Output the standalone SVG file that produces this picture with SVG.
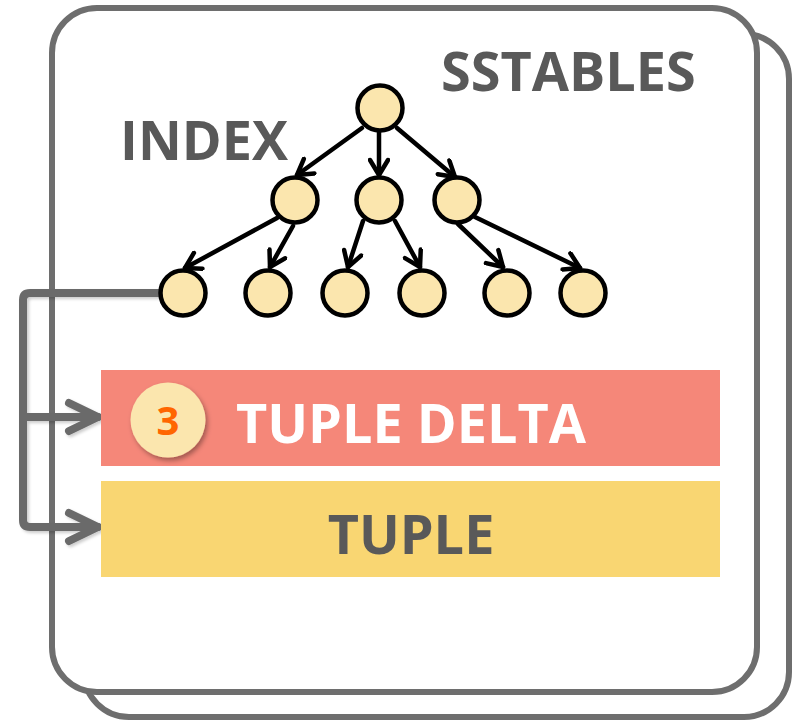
<svg xmlns="http://www.w3.org/2000/svg" width="796" height="724" viewBox="0 0 796 724">
  <defs>
    <style>
      .card { fill: #ffffff; stroke: #6e6e6e; stroke-width: 6; }
      .node { fill: #fbe6ae; stroke: #000000; stroke-width: 4.5; }
      .edge { fill: none; stroke: #000000; stroke-width: 4.5; stroke-linecap: round; }
      .link { fill: none; stroke: #6b6b6b; stroke-width: 8; stroke-linecap: round; stroke-linejoin: round; }
      .title { font-family: "Open Sans", "Liberation Sans", sans-serif; font-weight: bold; fill: #595959; }
      .bar-text { font-family: "Open Sans", "Liberation Sans", sans-serif; font-weight: bold; }
    </style>
    <marker id="tip" viewBox="0 0 22 22" refX="19" refY="11" markerWidth="22" markerHeight="22" markerUnits="userSpaceOnUse" orient="auto">
      <path d="M4,2 L19,11 L4,20" fill="none" stroke="#000" stroke-width="4.5" stroke-linecap="round" stroke-linejoin="round"/>
    </marker>
    <filter id="shadow" x="-30%" y="-30%" width="160%" height="160%">
      <feDropShadow dx="2" dy="3" stdDeviation="2.5" flood-color="#000" flood-opacity="0.35"/>
    </filter>
    <filter id="soft" x="-10%" y="-10%" width="120%" height="120%">
      <feDropShadow dx="2" dy="2" stdDeviation="1.5" flood-color="#000" flood-opacity="0.2"/>
    </filter>
  </defs>

  <!-- stacked SSTable cards -->
  <g id="card-back">
    <rect class="card" x="84" y="34" width="705" height="683" rx="45"/>
  </g>
  <g id="card-front">
    <rect class="card" x="52" y="8" width="705" height="684" rx="45"/>
  </g>

  <g id="label-sstables">
    <text class="title" x="441" y="91" font-size="54">SSTABLES</text>
  </g>
  <g id="label-index">
    <text class="title" x="120" y="160" font-size="54">INDEX</text>
  </g>

  <!-- index tree edges -->
  <g id="connectors">
    <line class="edge" x1="362" y1="128" x2="297" y2="175" marker-end="url(#tip)"/>
    <line class="edge" x1="379" y1="131" x2="379" y2="175" marker-end="url(#tip)"/>
    <line class="edge" x1="397" y1="128" x2="455" y2="177" marker-end="url(#tip)"/>
    <line class="edge" x1="277" y1="218" x2="185" y2="268" marker-end="url(#tip)"/>
    <line class="edge" x1="293" y1="226" x2="270" y2="267" marker-end="url(#tip)"/>
    <line class="edge" x1="363" y1="221" x2="348" y2="267" marker-end="url(#tip)"/>
    <line class="edge" x1="395" y1="221" x2="420" y2="267" marker-end="url(#tip)"/>
    <line class="edge" x1="458" y1="224" x2="503" y2="267" marker-end="url(#tip)"/>
    <line class="edge" x1="475" y1="217" x2="580" y2="268" marker-end="url(#tip)"/>

    <!-- leaf pointer to tuple delta and tuple -->
    <g filter="url(#soft)">
      <path class="link" d="M163,293 H30 Q23,293 23,300 V520 Q23,527 30,527 H98"/>
      <path class="link" d="M23,417 H98"/>
      <path class="link" d="M69,403 L98,417 L69,431"/>
      <path class="link" d="M69,513 L98,527 L69,541"/>
    </g>
  </g>

  <!-- index tree nodes -->
  <g id="node-root"><circle class="node" cx="380" cy="108" r="22.5"/></g>
  <g id="node-l2-a"><circle class="node" cx="295" cy="200" r="22.5"/></g>
  <g id="node-l2-b"><circle class="node" cx="379" cy="200" r="22.5"/></g>
  <g id="node-l2-c"><circle class="node" cx="457" cy="200" r="22.5"/></g>
  <g id="node-l3-a"><circle class="node" cx="183" cy="293" r="22.5"/></g>
  <g id="node-l3-b"><circle class="node" cx="268" cy="293" r="22.5"/></g>
  <g id="node-l3-c"><circle class="node" cx="345" cy="293" r="22.5"/></g>
  <g id="node-l3-d"><circle class="node" cx="422" cy="293" r="22.5"/></g>
  <g id="node-l3-e"><circle class="node" cx="507" cy="293" r="22.5"/></g>
  <g id="node-l3-f"><circle class="node" cx="583" cy="293" r="22.5"/></g>

  <!-- tuple delta bar -->
  <g id="tuple-delta">
    <rect x="101" y="370" width="619" height="96" fill="#f58779"/>
    <text class="bar-text" x="411" y="443" font-size="54" fill="#ffffff" text-anchor="middle">TUPLE DELTA</text>
  </g>
  <g id="badge-3">
    <circle cx="168" cy="420" r="37.5" fill="#fbe6ae" filter="url(#shadow)"/>
    <text class="bar-text" x="168" y="435" font-size="40" fill="#ff6600" text-anchor="middle">3</text>
  </g>

  <!-- tuple bar -->
  <g id="tuple">
    <rect x="101" y="481" width="619" height="96" fill="#f9d672"/>
    <text class="bar-text" x="411" y="554" font-size="54" fill="#595959" text-anchor="middle">TUPLE</text>
  </g>
</svg>
